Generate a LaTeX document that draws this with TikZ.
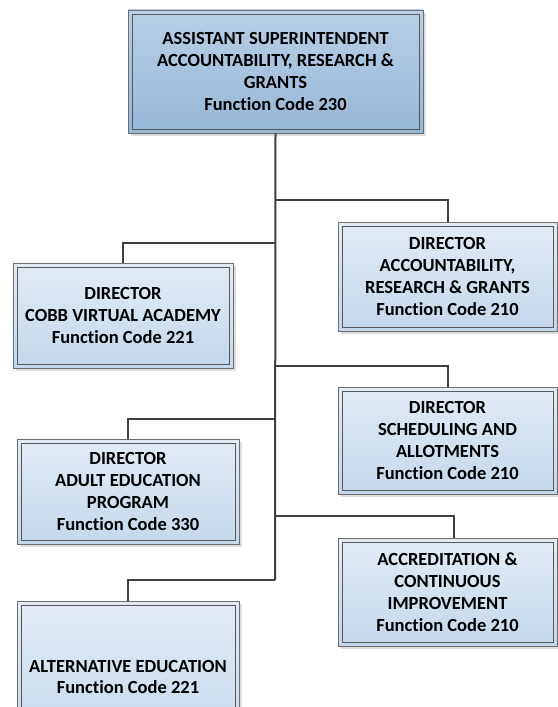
\documentclass[tikz,border=0pt]{standalone}
\usepackage{fontspec}
\setmainfont{Carlito}[Ligatures=NoCommon]
\usetikzlibrary{shadows}
\definecolor{lineclr}{HTML}{404040}
\definecolor{boxedge}{HTML}{6E6E6E}
\definecolor{toptop}{HTML}{B9D0E5}
\definecolor{topbot}{HTML}{97B6D6}
\definecolor{subtop}{HTML}{E2EBF5}
\definecolor{subbot}{HTML}{C4D7EA}
\tikzset{
  orgbox/.style={draw=boxedge, line width=0.9bp, rectangle, inner sep=0pt,
    align=center, font=\fontsize{18.5bp}{21.8bp}\selectfont\bfseries,
    drop shadow={shadow xshift=3bp, shadow yshift=-3bp, fill=black!30, opacity=0.45},
    path picture={\draw[draw=boxedge!80!black, line width=0.7bp]
      ([shift={(4bp,-4bp)}]path picture bounding box.north west) rectangle
      ([shift={(-4bp,4bp)}]path picture bounding box.south east);}},
  headbox/.style={orgbox, top color=toptop, bottom color=topbot},
  subbox/.style={orgbox, top color=subtop, bottom color=subbot},
  conn/.style={draw=lineclr, line width=2bp}
}
\begin{document}
\begin{tikzpicture}[x=1bp, y=-1bp]
\useasboundingbox (0,0) rectangle (558,707);
\node[headbox, minimum width=295bp, minimum height=123bp] (top) at (275.5,71.5)
  {ASSISTANT SUPERINTENDENT\\ACCOUNTABILITY, RESEARCH \&\\GRANTS\\Function Code 230};
\node[subbox, minimum width=219bp, minimum height=109bp] (r1) at (447.5,276.5)
  {DIRECTOR\\ACCOUNTABILITY,\\RESEARCH \& GRANTS\\Function Code 210};
\node[subbox, minimum width=220bp, minimum height=105bp] (l1) at (123,315.5)
  {DIRECTOR\\COBB VIRTUAL ACADEMY\\Function Code 221};
\node[subbox, minimum width=219bp, minimum height=107bp] (r2) at (447.5,440.5)
  {DIRECTOR\\SCHEDULING AND\\ALLOTMENTS\\Function Code 210};
\node[subbox, minimum width=222bp, minimum height=105bp] (l2) at (128,491.5)
  {DIRECTOR\\ADULT EDUCATION\\PROGRAM\\Function Code 330};
\node[subbox, minimum width=219bp, minimum height=108bp] (r3) at (447.5,592)
  {ACCREDITATION \&\\CONTINUOUS\\IMPROVEMENT\\Function Code 210};
\node[subbox, minimum width=222bp, minimum height=152bp] (l3) at (128,677)
  {ALTERNATIVE EDUCATION\\Function Code 221};
\coordinate (j1) at (275,200);
\coordinate (j2) at (275,243);
\coordinate (j3) at (275,366);
\coordinate (j4) at (275,419);
\coordinate (j5) at (275,516);
\coordinate (j6) at (275,580);
\draw[conn] (top.south) -- (j6);
\draw[conn] (j1) -| (r1.north);
\draw[conn] (j2) -| (l1.north);
\draw[conn] (j3) -| (r2.north);
\draw[conn] (j4) -| (l2.north);
\draw[conn] (j5) -| ([xshift=6.5bp]r3.north);
\draw[conn] (j6) -| (l3.north);
\end{tikzpicture}
\end{document}
